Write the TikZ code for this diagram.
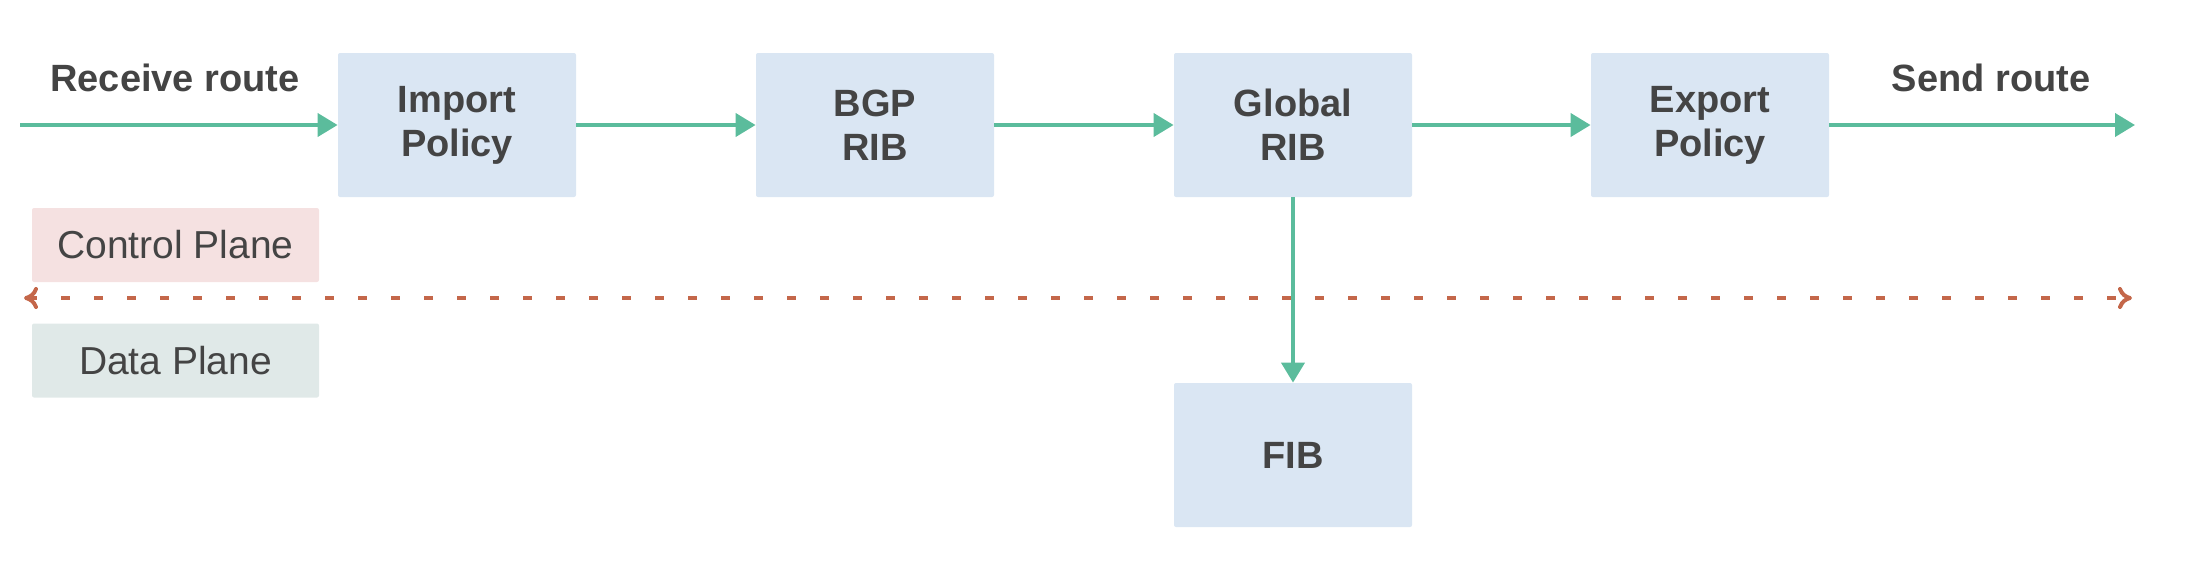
\documentclass[tikz,border=0pt]{standalone}
\usepackage{fontspec}
\setmainfont{Liberation Sans}
\usetikzlibrary{arrows.meta}
\definecolor{grn}{HTML}{5BBC9C}
\definecolor{boxblue}{HTML}{DAE6F3}
\definecolor{cpfill}{HTML}{F5E1E1}
\definecolor{dpfill}{HTML}{E0E9E8}
\definecolor{orng}{HTML}{C4674A}
\definecolor{txt}{HTML}{444444}
\tikzset{
  stepbox/.style={fill=boxblue, draw=none, rounded corners=1pt, minimum width=119pt, minimum height=72pt,
    align=center, text=txt, font=\fontsize{19}{22}\selectfont\bfseries, inner sep=0pt},
  planebox/.style={draw=none, rounded corners=1pt, minimum width=143.5pt, minimum height=37pt,
    text=txt, font=\fontsize{19.5}{22}\selectfont, inner sep=0pt},
  flow/.style={draw=grn, line width=2pt, -{Triangle[length=10pt,width=11.5pt]}},
  lbl/.style={text=txt, font=\fontsize{19}{22}\selectfont\bfseries, inner sep=0pt},
  divider/.style={draw=orng, line width=2.4pt, dash pattern=on 4.5pt off 12pt,
    {To[length=7pt,width=11pt,line width=2pt]}-{To[length=7pt,width=11pt,line width=2pt]}}
}
\begin{document}
\begin{tikzpicture}[x=0.5pt,y=-0.5pt]
\useasboundingbox (0,0) rectangle (2192,570);
\node[stepbox] (imp) at (457,125) {Import\\Policy};
\node[stepbox] (bgp) at (875,125) {BGP\\RIB};
\node[stepbox] (glob) at (1293,125) {Global\\RIB};
\node[stepbox] (exp) at (1710,125) {Export\\Policy};
\node[stepbox] (fib) at (1293,455) {FIB};
\node[planebox, fill=cpfill] (cp) at (175.5,245) {Control Plane};
\node[planebox, fill=dpfill] (dp) at (175.5,360.5) {Data Plane};
\node[lbl] (recv) at (175,78) {Receive route};
\node[lbl] (send) at (1991,78) {Send route};
\coordinate (start) at (20,125);
\coordinate (finish) at (2135,125);
\coordinate (dl) at (24,298);
\coordinate (dr) at (2132,298);
\draw[divider] (dl) -- (dr);
\draw[flow] (start) -- (imp.west);
\draw[flow] (imp.east) -- (bgp.west);
\draw[flow] (bgp.east) -- (glob.west);
\draw[flow] (glob.east) -- (exp.west);
\draw[flow] (exp.east) -- (finish);
\draw[flow] (glob.south) -- (fib.north);
\end{tikzpicture}
\end{document}
